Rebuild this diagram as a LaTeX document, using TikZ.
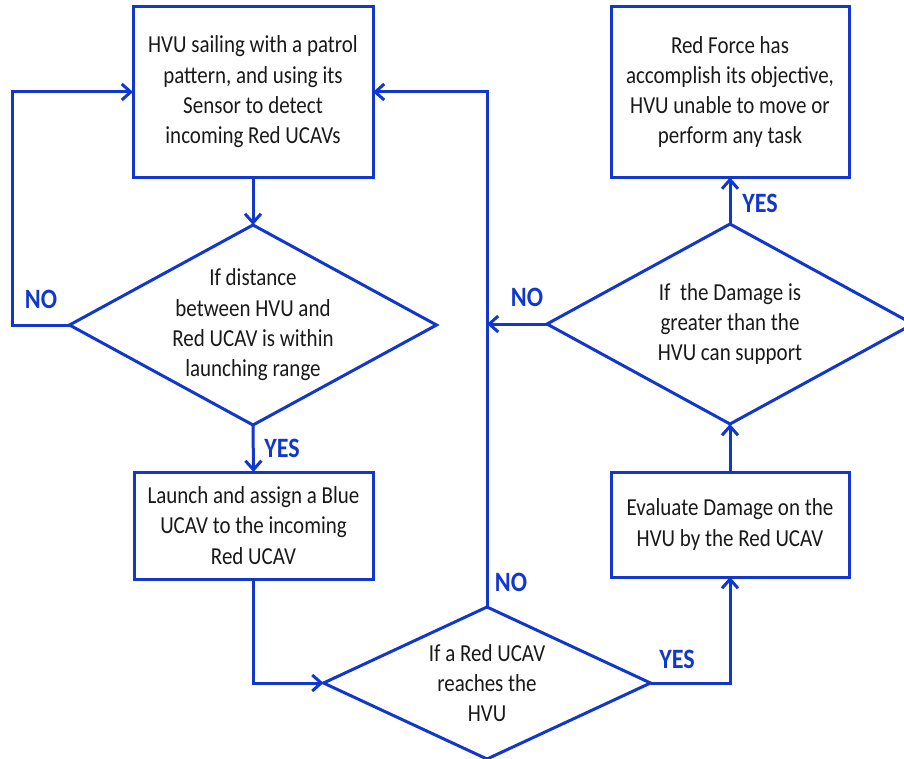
\documentclass[tikz,border=0pt]{standalone}
\usepackage{fontspec}
\setmainfont[FakeStretch=0.86]{Carlito}
\usetikzlibrary{shapes.geometric,arrows.meta}
\definecolor{flowblue}{RGB}{18,55,205}
\definecolor{flowtext}{RGB}{25,25,25}
\begin{document}
\begin{tikzpicture}[x=1pt,y=-1pt,
  every node/.style={inner sep=0pt,outer sep=0pt},
  procbox/.style={draw=flowblue,line width=3pt,rectangle},
  decision/.style={draw=flowblue,line width=3pt,diamond},
  bodytext/.style={align=center,text=flowtext,font=\fontsize{24.4}{30.3}\selectfont},
  answer/.style={text=flowblue,font=\fontsize{28}{30}\selectfont\bfseries},
  flow/.style={draw=flowblue,line width=3pt,-{Straight Barb[length=9pt,width=16pt,line width=3pt]}},
  plain/.style={draw=flowblue,line width=3pt}]
\useasboundingbox (0,0) rectangle (904,759);
\clip (0,0) rectangle (904,759);

% process boxes
\node[procbox,minimum width=240pt,minimum height=171pt] (patrol) at (253,92) {};
\node[bodytext] (patrolt) at (patrol.center) {HVU sailing with a patrol\\pattern, and using its\\Sensor to detect\\incoming Red UCAVs};

\node[procbox,minimum width=238pt,minimum height=171pt] (objective) at (730,92) {};
\node[bodytext] (objectivet) at (objective.center) {Red Force has\\accomplish its objective,\\HVU unable to move or\\perform any task};

\node[procbox,minimum width=239pt,minimum height=107pt] (launch) at (253.5,525.5) {};
\node[bodytext] (launcht) at (launch.center) {Launch and assign a Blue\\UCAV to the incoming\\Red UCAV};

\node[procbox,minimum width=238pt,minimum height=105pt] (evaluate) at (730,524.5) {};
\node[bodytext] (evaluatet) at (evaluate.center) {Evaluate Damage on the\\HVU by the Red UCAV};

% decisions
\node[decision,minimum width=367pt,minimum height=200pt] (range) at (253,325) {};
\node[bodytext] (ranget) at (range.center) {If distance\\between HVU and\\Red UCAV is within\\launching range};

\node[decision,minimum width=366pt,minimum height=200pt] (damage) at (730,324) {};
\node[bodytext] (damaget) at (damage.center) {If\ \ the Damage is\\greater than the\\HVU can support};

\node[decision,minimum width=327pt,minimum height=152pt] (reach) at (487,683) {};
\node[bodytext] (reacht) at (reach.center) {If a Red UCAV\\reaches the\\HVU};

% connectors
\coordinate (loopleft) at (12,92);
\coordinate (join) at (reach.north |- damage.west);

\draw[flow] (patrol.south) -- (range.north);
\draw[flow] (range.west) -| (loopleft) -- (patrol.west);
\draw[flow] (range.south) -- (launch.north);
\draw[flow] (launch.south) |- (reach.west);
\draw[flow] (reach.north) |- (patrol.east);
\draw[flow] (reach.east) -| (evaluate.south);
\draw[flow] (evaluate.north) -- (damage.south);
\draw[flow] (damage.west) -- (join);
\draw[flow] (damage.north) -- (objective.south);

% branch labels
\node[answer] (no1) at (41,299) {NO};
\node[answer] (yes1) at (282,448) {YES};
\node[answer] (no2) at (511,582) {NO};
\node[answer] (yes2) at (677,659) {YES};
\node[answer] (no3) at (527,297) {NO};
\node[answer] (yes3) at (760,203) {YES};
\end{tikzpicture}
\end{document}
